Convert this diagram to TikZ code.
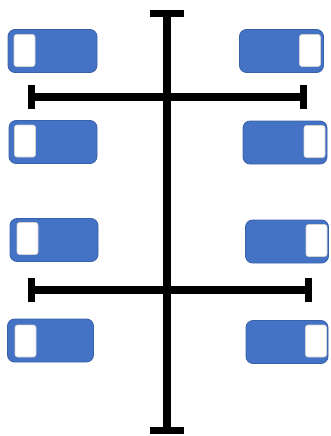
\documentclass[tikz,border=0pt]{standalone}
\begin{document}
\begin{tikzpicture}[x=1pt,y=-1pt,
  sw/.style={draw=swblue!85!black, fill=swblue, line width=0.8pt, rounded corners=7pt, minimum width=#1, minimum height=43pt, inner sep=0pt},
  knob/.style={draw=gray!35, fill=white, line width=0.6pt, rounded corners=2.5pt, minimum width=21pt, minimum height=32pt, inner sep=0pt},
  bar/.style={line width=8pt, black}]
\definecolor{swblue}{HTML}{4472C4}
\useasboundingbox (0,0) rectangle (330,436);
% switches
\node[sw=89pt] (l1) at (52.5,51) {};
\node[knob] (l1k) at (24.5,50.5) {};
\node[sw=84pt] (r1) at (281.5,51) {};
\node[knob] (r1k) at (310,50.5) {};
\node[sw=88pt] (l2) at (53,142) {};
\node[knob] (l2k) at (25,141) {};
\node[sw=84pt] (r2) at (285,142.5) {};
\node[knob] (r2k) at (314.5,141.5) {};
\node[sw=88pt] (l3) at (54,240) {};
\node[knob] (l3k) at (27.5,238.5) {};
\node[sw=83pt] (r3) at (287,241.5) {};
\node[knob] (r3k) at (316.5,240.5) {};
\node[sw=86pt] (l4) at (50.5,340.5) {};
\node[knob] (l4k) at (25.5,341) {};
\node[sw=82pt] (r4) at (287,342) {};
\node[knob] (r4k) at (316,341) {};
% spine
\coordinate (top) at (167,13.5);
\coordinate (bot) at (167,430.5);
\draw[bar] (top) -- (bot);
\draw[line width=7pt] ([xshift=-17pt]top) -- ([xshift=17pt]top);
\draw[line width=7pt] ([xshift=-17pt]bot) -- ([xshift=17pt]bot);
% bar 1
\coordinate (a1) at (31.5,97);
\coordinate (b1) at (303.5,97);
\draw[bar] (a1) -- (b1);
\draw[line width=7pt] ([yshift=-12pt]a1) -- ([yshift=12pt]a1);
\draw[line width=7pt] ([yshift=-12pt]b1) -- ([yshift=12pt]b1);
% bar 2
\coordinate (a2) at (31.5,290);
\coordinate (b2) at (308.5,290);
\draw[bar] (a2) -- (b2);
\draw[line width=7pt] ([yshift=-12pt]a2) -- ([yshift=12pt]a2);
\draw[line width=7pt] ([yshift=-12pt]b2) -- ([yshift=12pt]b2);
\end{tikzpicture}
\end{document}
